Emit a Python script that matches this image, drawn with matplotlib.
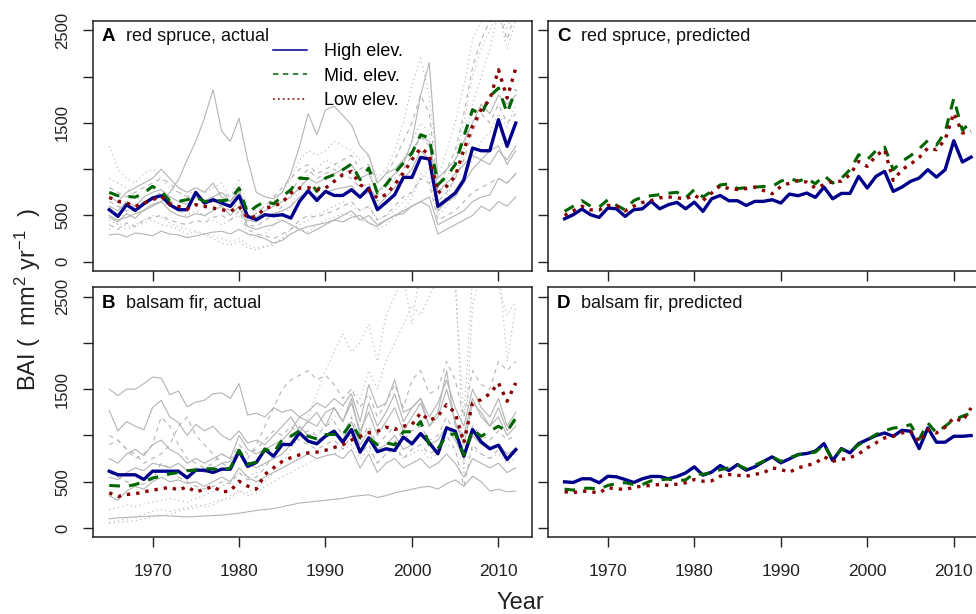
import matplotlib.pyplot as plt
from matplotlib.lines import Line2D

plt.rcParams['font.family'] = ['Liberation Sans', 'DejaVu Sans']
plt.rcParams['mathtext.fontset'] = 'custom'
plt.rcParams['mathtext.rm'] = 'Liberation Sans'
plt.rcParams['mathtext.it'] = 'Liberation Sans:italic'
plt.rcParams['mathtext.bf'] = 'Liberation Sans:bold'

years = list(range(1965, 2013))

# ---- red spruce, actual: means by elevation ----
rs_high = [562, 490, 616, 554, 626, 688, 713, 616, 562, 562, 749, 634,
           670, 634, 598, 713, 490, 454, 508, 497, 508, 472, 652, 767,
           662, 760, 716, 716, 778, 698, 796, 562, 641, 724, 911, 911,
           1127, 1109, 598, 670, 742, 886, 1228, 1199, 1199, 1534, 1246, 1498]
rs_mid = [749, 713, 706, 698, 742, 814, 760, 659, 652, 670, 698, 652,
          659, 659, 670, 796, 526, 598, 652, 626, 706, 778, 904, 896,
          760, 904, 940, 994, 1055, 886, 1012, 742, 832, 958, 1066, 1174,
          1372, 1336, 832, 922, 1048, 1354, 1642, 1588, 1786, 1876, 1606, 1858]
rs_low = [695, 652, 634, 598, 634, 670, 706, 626, 598, 569, 616, 598,
          580, 562, 544, 598, 472, 490, 580, 598, 641, 742, 796, 800,
          778, 796, 868, 940, 976, 832, 778, 688, 724, 832, 958, 1102,
          1228, 1156, 742, 814, 922, 1210, 1462, 1642, 1750, 2074, 1768, 2092]

# red spruce, individual plots (grey)
rs_p1 = [480, 430, 520, 470, 560, 620, 650, 750, 885, 1100, 1300, 1550,
         1860, 1410, 1300, 1550, 1100, 750, 700, 680, 750, 950, 1250, 1600,
         1370, 1640, 1680, 1580, 1480, 1250, 1150, 850, 950, 1000, 1100, 1200,
         1350, 1300, 750, 850, 950, 1050, 1150, 1100, 1200, 1250, 1050, 1200]
rs_p2 = [290, 300, 270, 310, 300, 280, 330, 300, 290, 260, 280, 300,
         320, 330, 300, 350, 300, 280, 250, 200, 230, 300, 350, 380,
         400, 420, 450, 430, 480, 500, 420, 380, 450, 500, 520, 600,
         650, 700, 400, 450, 500, 550, 650, 700, 720, 900, 850, 950]
rs_p3 = [350, 420, 380, 400, 450, 500, 480, 420, 380, 350, 330, 300,
         250, 200, 180, 220, 150, 130, 160, 180, 250, 300, 350, 320,
         400, 450, 480, 520, 500, 450, 420, 350, 400, 480, 550, 700,
         900, 1000, 550, 700, 900, 1200, 1700, 2000, 2300, 2700, 2500, 2800]
rs_p4 = [800, 750, 700, 750, 800, 850, 900, 850, 750, 700, 700, 650,
         700, 750, 700, 800, 500, 520, 600, 700, 800, 900, 1000, 1050,
         950, 1000, 1050, 1100, 1150, 1000, 1050, 850, 950, 1100, 1300, 1500,
         1800, 1600, 800, 1000, 1200, 1600, 2100, 2400, 2600, 2700, 2400, 2700]
rs_p5 = [600, 550, 650, 600, 700, 750, 780, 700, 650, 620, 700, 650,
         700, 750, 650, 800, 450, 430, 500, 520, 550, 600, 700, 750,
         700, 750, 780, 800, 820, 700, 750, 600, 700, 800, 900, 1000,
         1200, 1100, 550, 650, 700, 850, 1000, 1100, 1050, 1200, 1100, 1250]
rs_p6 = [1250, 1000, 900, 850, 950, 1000, 900, 800, 750, 700, 800, 750,
         800, 850, 700, 900, 600, 550, 600, 650, 750, 900, 1100, 1200,
         1150, 1200, 1300, 1250, 1200, 1100, 1150, 900, 1000, 1200, 1500, 1900,
         2200, 1800, 900, 1200, 1500, 1900, 2400, 2600, 2700, 2800, 2600, 2800]
rs_p7 = [400, 350, 420, 380, 450, 480, 500, 450, 420, 400, 450, 420,
         480, 500, 450, 550, 350, 300, 280, 250, 300, 350, 450, 500,
         480, 520, 550, 600, 650, 550, 600, 450, 500, 600, 700, 750,
         900, 850, 450, 500, 550, 650, 750, 800, 850, 900, 850, 950]
rs_p8 = [700, 650, 750, 800, 850, 900, 1000, 900, 800, 750, 800, 750,
         850, 700, 650, 750, 500, 480, 550, 600, 650, 700, 800, 900,
         850, 900, 950, 1000, 1050, 900, 950, 750, 850, 950, 1050, 1300,
         1800, 2150, 900, 1000, 1100, 1300, 1500, 1700, 1600, 1800, 1700, 1800]
rs_p9 = [900, 850, 800, 700, 650, 600, 650, 600, 550, 500, 550, 500,
         450, 400, 450, 500, 300, 250, 300, 400, 500, 600, 800, 950,
         1000, 1100, 1050, 1000, 950, 900, 1000, 750, 800, 900, 1100, 1300,
         1500, 1400, 700, 900, 1100, 1500, 2000, 2300, 2500, 2700, 2300, 2600]
rs_p10 = [500, 450, 480, 520, 550, 600, 650, 550, 500, 480, 520, 500,
          550, 600, 500, 600, 380, 350, 380, 400, 450, 400, 350, 300,
          350, 400, 450, 500, 550, 450, 500, 400, 450, 500, 550, 600,
          650, 600, 300, 350, 400, 450, 500, 600, 550, 650, 600, 700]
rs_p11 = [650, 600, 550, 600, 650, 700, 750, 650, 600, 580, 620, 600,
          650, 600, 550, 650, 400, 380, 450, 500, 600, 750, 900, 1000,
          900, 950, 1000, 950, 900, 800, 850, 650, 750, 850, 1000, 1150,
          1350, 1250, 650, 750, 900, 1100, 1400, 1600, 1500, 1700, 1500, 1600]
rs_p12 = [450, 400, 350, 380, 420, 450, 400, 380, 350, 300, 320, 300,
          280, 250, 220, 250, 180, 150, 170, 200, 250, 350, 400, 450,
          500, 550, 600, 650, 600, 550, 600, 450, 500, 550, 650, 750,
          950, 900, 500, 600, 750, 900, 1100, 1300, 1400, 1600, 1450, 1700]

# ---- balsam fir, actual ----
bf_high = [614, 575, 575, 575, 525, 614, 614, 614, 614, 543, 625, 625,
           600, 636, 636, 830, 665, 708, 848, 776, 902, 902, 1028, 938,
           910, 992, 1046, 927, 1064, 820, 975, 824, 856, 838, 982, 910,
           1021, 920, 802, 1082, 1046, 776, 1064, 931, 856, 895, 740, 848]
bf_mid = [460, 455, 450, 470, 500, 540, 560, 585, 600, 620, 625, 640,
          640, 620, 650, 840, 690, 711, 855, 812, 955, 991, 1052, 991,
          963, 1010, 1010, 1009, 1135, 975, 975, 900, 920, 900, 1040, 1040,
          1150, 900, 856, 1000, 1020, 790, 1063, 991, 1046, 1100, 1045, 1190]
bf_low = [381, 340, 363, 370, 390, 410, 424, 440, 410, 445, 390, 417,
          450, 390, 400, 506, 453, 420, 580, 650, 720, 760, 790, 812,
          820, 840, 870, 900, 950, 990, 1028, 1046, 1090, 1064, 1100, 1118,
          1243, 1160, 1208, 1333, 1243, 920, 1351, 1387, 1450, 1567, 1369, 1567]

bf_p1 = [1500, 1430, 1500, 1500, 1560, 1630, 1620, 1440, 1480, 1310, 1360, 1380,
         1450, 1460, 1400, 1560, 1220, 1240, 1200, 1300, 1250, 1280, 1200, 1260,
         1350, 1300, 1400, 1320, 1450, 1150, 1550, 1300, 1350, 1600, 1250, 1300,
         1400, 1200, 1350, 1600, 1300, 1100, 1500, 1300, 1200, 1400, 1100, 1250]
bf_p2 = [1270, 1050, 1150, 1100, 1060, 1300, 1380, 1200, 1140, 1000, 1120, 1050,
         1100, 1000, 950, 1050, 920, 950, 900, 1000, 1100, 1200, 1050, 1150,
         1250, 1100, 1300, 1150, 1400, 1000, 1350, 1100, 1250, 1450, 1150, 1300,
         1400, 1100, 1250, 1700, 1100, 1000, 1400, 1200, 1100, 1300, 1050, 1150]
bf_p3 = [100, 110, 115, 120, 125, 130, 135, 130, 125, 120, 125, 130,
         135, 140, 150, 160, 175, 190, 200, 210, 230, 250, 270, 280,
         290, 300, 310, 320, 340, 350, 360, 330, 350, 380, 400, 420,
         440, 450, 420, 480, 520, 450, 560, 500, 400, 420, 390, 400]
bf_p4 = [50, 60, 70, 80, 100, 120, 130, 150, 180, 200, 220, 250,
         280, 300, 350, 400, 380, 450, 500, 600, 700, 850, 1000, 1200,
         1450, 1700, 1900, 2100, 1900, 2000, 2200, 1800, 2300, 2500, 2700, 2200,
         2800, 2900, 2700, 3000, 2800, 600, 2400, 2800, 2600, 2900, 1800, 2400]
bf_p5 = [900, 950, 850, 800, 700, 750, 800, 900, 1100, 1200, 1000, 900,
         800, 700, 650, 800, 750, 900, 1100, 1300, 1500, 1600, 1650, 1700,
         1600, 1650, 1550, 1400, 1500, 1300, 1450, 1200, 1350, 1550, 1300, 1600,
         1700, 1450, 1500, 1800, 1600, 1200, 1700, 1550, 1500, 1800, 1700, 1800]
bf_p6 = [60, 80, 100, 120, 150, 180, 200, 180, 200, 220, 250, 230,
         250, 300, 320, 400, 350, 380, 450, 500, 550, 600, 650, 700,
         750, 780, 800, 850, 900, 750, 850, 700, 800, 850, 750, 800,
         850, 750, 800, 900, 850, 700, 850, 800, 750, 800, 700, 750]
bf_p7 = [550, 520, 600, 650, 620, 700, 680, 650, 700, 620, 650, 600,
         650, 700, 720, 850, 700, 650, 700, 750, 800, 900, 1100, 1000,
         950, 1000, 1050, 950, 1150, 900, 1050, 850, 900, 1000, 850, 900,
         1000, 900, 950, 1100, 950, 750, 1000, 900, 850, 900, 800, 850]
bf_p8 = [1000, 950, 850, 750, 800, 900, 1200, 1100, 900, 750, 700, 650,
         700, 800, 750, 900, 800, 850, 950, 1050, 1000, 1100, 1000, 1050,
         1000, 1100, 1150, 1000, 1200, 950, 1100, 900, 1000, 1100, 950, 1050,
         1100, 950, 1000, 1200, 1000, 800, 1100, 1000, 950, 1050, 950, 1000]
bf_p9 = [350, 300, 400, 450, 420, 500, 550, 500, 520, 480, 500, 450,
         500, 550, 500, 650, 550, 500, 550, 600, 650, 700, 750, 800,
         750, 780, 800, 750, 850, 650, 800, 600, 700, 750, 650, 700,
         750, 650, 700, 800, 700, 550, 750, 700, 650, 700, 600, 650]
bf_p10 = [200, 220, 250, 230, 260, 280, 300, 320, 300, 280, 320, 350,
          400, 450, 500, 600, 550, 600, 700, 750, 800, 900, 950, 1000,
          1050, 1100, 1200, 1300, 1500, 1400, 1700, 1500, 1800, 2000, 2200, 2400,
          2300, 2500, 2700, 2800, 2600, 1200, 2700, 2900, 2800, 2600, 2300, 2450]
bf_p11 = [600, 550, 500, 450, 480, 520, 700, 650, 550, 500, 450, 420,
          450, 500, 480, 600, 520, 550, 650, 800, 900, 1000, 950, 900,
          850, 900, 950, 850, 1000, 800, 900, 700, 800, 900, 750, 850,
          900, 800, 850, 1000, 850, 450, 900, 800, 750, 850, 750, 800]
bf_p12 = [750, 700, 800, 850, 780, 900, 950, 850, 800, 700, 750, 700,
          750, 800, 750, 1000, 850, 800, 850, 900, 950, 1050, 1200, 1150,
          1100, 1250, 1300, 1150, 1350, 1050, 1250, 1000, 1150, 1300, 1050, 1200,
          1350, 1100, 1200, 1500, 1150, 900, 1350, 1250, 1100, 1200, 1000, 1100]

# ---- predicted ----
rs_pred_high = [464, 508, 569, 508, 479, 580, 572, 490, 562, 572, 652, 572,
                616, 641, 572, 644, 544, 680, 716, 659, 659, 608, 652, 652,
                670, 634, 731, 713, 742, 695, 806, 680, 738, 738, 922, 796,
                922, 976, 760, 806, 868, 904, 994, 914, 994, 1307, 1077, 1130]
rs_pred_mid = [544, 600, 660, 600, 590, 670, 610, 560, 660, 700, 713, 725,
               740, 750, 690, 780, 700, 760, 830, 840, 790, 800, 806, 813,
               813, 870, 900, 870, 900, 842, 932, 850, 900, 994, 1156, 1102,
               1200, 1238, 994, 1084, 1145, 1220, 1310, 1260, 1400, 1764, 1420, 1512]
rs_pred_low = [500, 550, 600, 560, 560, 610, 600, 550, 600, 640, 660, 690,
               700, 690, 680, 720, 660, 742, 821, 790, 780, 790, 806, 770,
               734, 813, 850, 878, 860, 796, 832, 868, 870, 940, 1084, 1030,
               1145, 1210, 878, 994, 1054, 1126, 1228, 1210, 1318, 1606, 1390, 1408]

bf_pred_high = [499, 492, 532, 532, 489, 560, 553, 524, 492, 532, 557, 557,
                532, 557, 596, 661, 571, 603, 675, 621, 686, 625, 661, 718,
                769, 704, 747, 794, 805, 830, 912, 729, 858, 812, 912, 955,
                999, 1027, 991, 1056, 1045, 858, 1081, 927, 927, 991, 991, 999]
bf_pred_mid = [420, 410, 430, 430, 420, 460, 480, 490, 470, 470, 510, 520,
               530, 510, 520, 590, 580, 600, 630, 650, 680, 640, 680, 720,
               770, 720, 760, 790, 805, 820, 900, 740, 850, 820, 900, 950,
               1010, 1050, 1080, 1090, 1117, 960, 1135, 1027, 1100, 1171, 1207, 1243]
bf_pred_low = [392, 381, 400, 392, 380, 435, 424, 417, 440, 453, 460, 471,
               460, 475, 489, 524, 506, 510, 560, 578, 570, 560, 580, 596,
               650, 632, 603, 650, 675, 700, 770, 720, 740, 760, 800, 866,
               920, 973, 991, 1027, 1045, 930, 1063, 1027, 1090, 1190, 1153, 1297]

rs_plots = [rs_p1, rs_p2, rs_p3, rs_p4, rs_p5, rs_p6, rs_p7, rs_p8, rs_p9, rs_p10, rs_p11, rs_p12]
rs_styles = ['-', '-', ':', '--', '-', ':', '--', '-', ':', '-', '--', ':']
bf_plots = [bf_p1, bf_p2, bf_p3, bf_p4, bf_p5, bf_p6, bf_p7, bf_p8, bf_p9, bf_p10, bf_p11, bf_p12]
bf_styles = ['-', '-', '-', ':', '--', ':', '-', '--', '-', ':', '--', '-']

BLUE = '#00008B'
GREEN = '#006400'
RED = '#8B0000'
GREY = '#b4b4b4'
INK = '#222222'

fig = plt.figure(figsize=(9.76, 6.14), dpi=100)
ax_a = fig.add_axes([0.0953, 0.5586, 0.4498, 0.4072])
ax_b = fig.add_axes([0.0953, 0.1249, 0.4498, 0.4072])
ax_c = fig.add_axes([0.5618, 0.5586, 0.4498, 0.4072])
ax_d = fig.add_axes([0.5618, 0.1249, 0.4498, 0.4072])


def grey_lines(ax, plots, styles):
    for vals, st in zip(plots, styles):
        if st == '-':
            ax.plot(years, vals, color=GREY, lw=0.8)
        elif st == '--':
            ax.plot(years, vals, color=GREY, lw=0.8, dashes=(4, 4))
        else:
            ax.plot(years, vals, color=GREY, lw=0.8, dashes=(1, 3))


def main_lines(ax, high, mid, low):
    ax.plot(years, high, color=BLUE, lw=2.4)
    ax.plot(years, mid, color=GREEN, lw=2.2, dashes=(3.5, 3))
    ax.plot(years, low, color=RED, lw=2.4, dashes=(1, 1.8))


def setup(ax, letter, title, xlabels, ylabels):
    ax.set_xlim(1963.12, 2013.88)
    ax.set_ylim(-100, 2600)
    ax.set_xticks([1970, 1980, 1990, 2000, 2010])
    ax.set_yticks([0, 500, 1000, 1500, 2000, 2500])
    if xlabels:
        ax.set_xticklabels(['1970', '1980', '1990', '2000', '2010'])
    else:
        ax.set_xticklabels([])
    if ylabels:
        ax.set_yticklabels(['0', '500', '', '1500', '', '2500'])
        for lab in ax.get_yticklabels():
            lab.set_rotation(90)
            lab.set_va('center')
    else:
        ax.set_yticklabels([])
    ax.tick_params(direction='out', length=7.5, width=1, color=INK)
    ax.tick_params(axis='x', labelsize=12.5, pad=12, labelcolor=INK)
    ax.tick_params(axis='y', labelsize=12, pad=9, labelcolor=INK)
    for sp in ax.spines.values():
        sp.set_color(INK)
        sp.set_linewidth(1.1)
    ax.text(0.02, 0.937, letter, transform=ax.transAxes, fontsize=13.5,
            fontweight='bold', va='center', color='black')
    ax.text(0.0745, 0.937, title, transform=ax.transAxes, fontsize=13,
            va='center', color='#111111')


grey_lines(ax_a, rs_plots, rs_styles)
main_lines(ax_a, rs_high, rs_mid, rs_low)
grey_lines(ax_b, bf_plots, bf_styles)
main_lines(ax_b, bf_high, bf_mid, bf_low)
main_lines(ax_c, rs_pred_high, rs_pred_mid, rs_pred_low)
main_lines(ax_d, bf_pred_high, bf_pred_mid, bf_pred_low)

setup(ax_a, 'A', 'red spruce, actual', False, True)
setup(ax_b, 'B', 'balsam fir, actual', True, True)
setup(ax_c, 'C', 'red spruce, predicted', False, False)
setup(ax_d, 'D', 'balsam fir, predicted', True, False)

handles = [Line2D([], [], color=BLUE, lw=1.1),
           Line2D([], [], color=GREEN, lw=1.1, dashes=(3.5, 3)),
           Line2D([], [], color=RED, lw=1.1, dashes=(1.2, 2))]
ax_a.legend(handles, ['High elev.', 'Mid. elev.', 'Low elev.'],
            loc='upper left', bbox_to_anchor=(0.41, 0.912), frameon=False,
            fontsize=13, handlelength=1.9, handletextpad=0.9,
            labelspacing=0.42, borderpad=0, borderaxespad=0)

fig.text(28 / 976, 1 - 300 / 614, r'BAI (  mm$^2$ yr$^{-1}$  )', rotation=90,
         ha='center', va='center', fontsize=17, color=INK)
fig.text(520 / 976, 1 - 603 / 614, 'Year', ha='center', va='center',
         fontsize=17, color=INK)

fig.savefig('out.png', dpi=100)
